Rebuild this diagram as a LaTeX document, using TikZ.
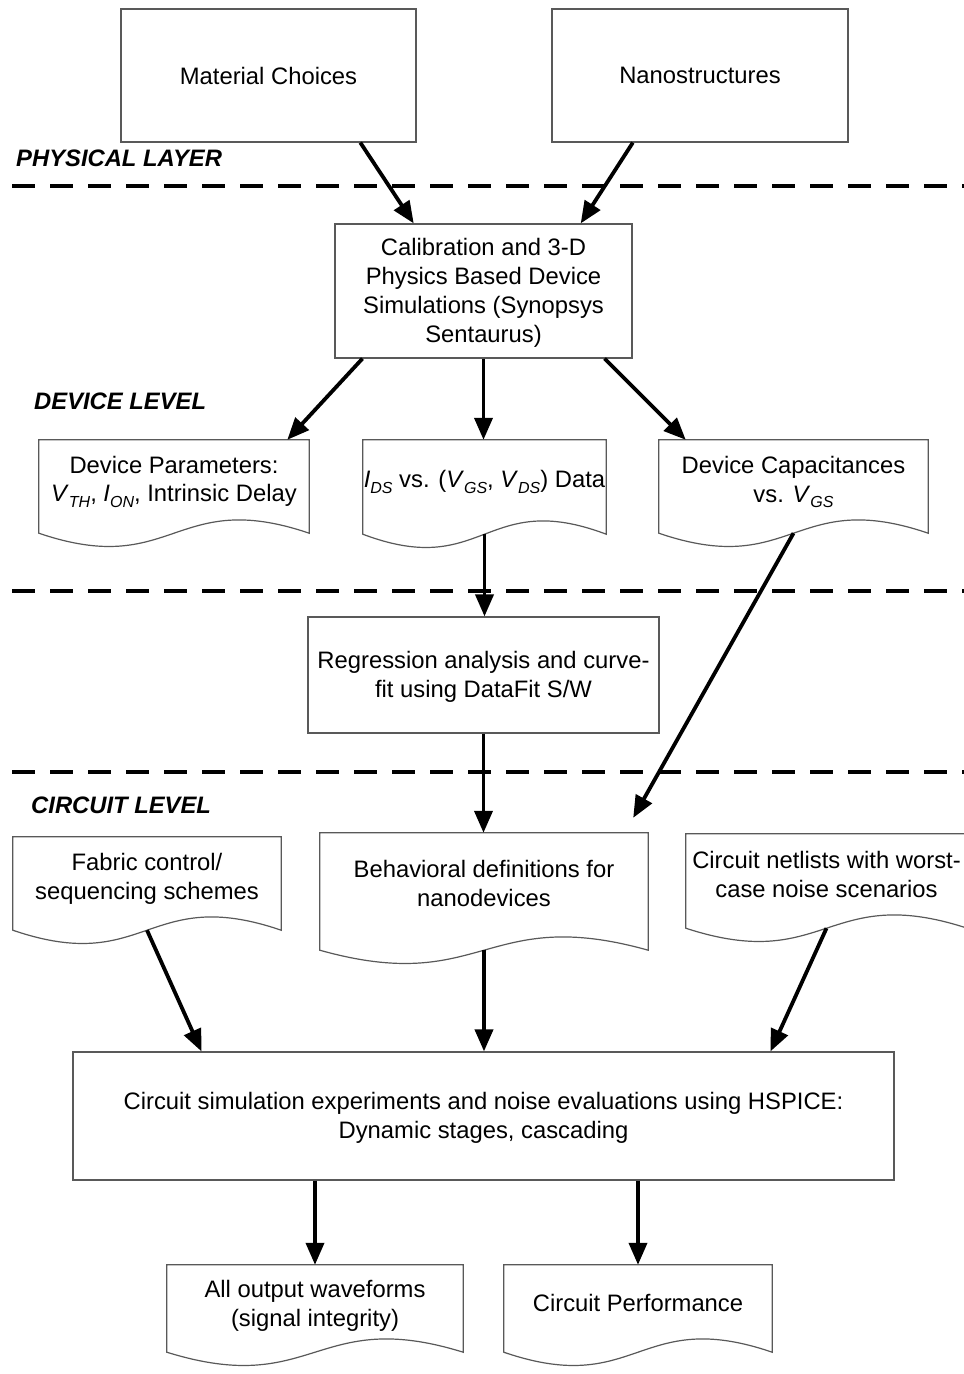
\documentclass[tikz,border=0pt]{standalone}
\usepackage{fontspec}
\setmainfont{Liberation Sans}
\usetikzlibrary{arrows.meta,calc}

% italic subscript set lower and smaller, as in V_GS
\newcommand\lowsub[1]{\raisebox{-0.22em}{\fontsize{16}{16}\selectfont\itshape #1}}
\newcommand\var[2]{\textit{#1}\lowsub{#2}}

% outline of a "document" box: square top, wavy bottom
\newcommand\docframe[1]{%
  \draw[boxline] (#1.south west) -- (#1.north west) -- (#1.north east) -- (#1.south east)
    .. controls ($(#1.south)+(0,-46)$) and ($(#1.south)+(0,46)$) .. (#1.south west) -- cycle;}

\tikzset{
  boxline/.style={line width=1.2pt, draw=black!65},
  procbox/.style={rectangle, boxline, inner sep=0pt, align=center,
    font=\fontsize{23.8}{28.8}\selectfont},
  docbox/.style={rectangle, inner sep=0pt},
  doctext/.style={inner sep=0pt, align=center, font=\fontsize{23.8}{28.8}\selectfont},
  layerlab/.style={inner sep=0pt, anchor=west,
    font=\fontsize{23.8}{28.8}\selectfont\bfseries\itshape},
  layersep/.style={line width=3.2pt, dash pattern=on 23pt off 15pt},
  conn/.style={line width=3.8pt, -{Triangle[length=22pt,width=18pt]}},
}

\begin{document}
\begin{tikzpicture}[x=1pt, y=-1pt]
\useasboundingbox[fill=white] (0,0) rectangle (964,1374);

% ---------- physical layer ----------
\node[procbox, minimum width=295pt, minimum height=133pt] (mat) at (268.5,75.5) {Material Choices};
\node[procbox, minimum width=296pt, minimum height=133pt] (nano) at (700,75.5) {Nanostructures};
\node[layerlab] (phys) at (16,158) {PHYSICAL LAYER};

\coordinate (sep1a) at (12,186);  \coordinate (sep1b) at (975,186);
\draw[layersep] (sep1a) -- (sep1b);

% ---------- device level ----------
\node[procbox, minimum width=297pt, minimum height=134pt] (cal) at (483.5,291) {};
\node[doctext] (cal-t) at ($(cal.center)+(0,2)$)
  {Calibration and 3-D\\Physics Based Device\\Simulations (Synopsys\\Sentaurus)};
\node[layerlab] (dev) at (34,401) {DEVICE LEVEL};

\node[docbox, minimum width=270pt, minimum height=93pt] (dp) at (174,486.5) {};
\node[docbox, minimum width=243pt, minimum height=94pt] (ids) at (484.5,487) {};
\node[docbox, minimum width=269pt, minimum height=93pt] (caps) at (793.5,486.5) {};
\docframe{dp} \docframe{ids} \docframe{caps}
\node[doctext] (dp-t) at ($(dp.center)+(0,-5)$)
  {Device Parameters:\\\var{V}{TH}, \var{I}{ON}, Intrinsic Delay};
\node[doctext] (ids-t) at ($(ids.center)+(0,-5)$)
  {\var{I}{DS} vs. (\var{V}{GS}, \var{V}{DS}) Data};
\node[doctext] (caps-t) at ($(caps.center)+(0,-4.5)$)
  {Device Capacitances\\vs. \var{V}{GS}};

\coordinate (sep2a) at (12,591);  \coordinate (sep2b) at (975,591);
\draw[layersep] (sep2a) -- (sep2b);

\node[procbox, minimum width=351pt, minimum height=116pt] (reg) at (483.5,675) {};
\node[doctext] (reg-t) at ($(reg.center)+(0,2)$)
  {Regression analysis and curve-\\fit using DataFit S/W};

\coordinate (sep3a) at (12,772);  \coordinate (sep3b) at (975,772);
\draw[layersep] (sep3a) -- (sep3b);

% ---------- circuit level ----------
\node[layerlab] (circ) at (31,805) {CIRCUIT LEVEL};

\node[docbox, minimum width=268pt, minimum height=93pt] (fab) at (147,883.5) {};
\node[docbox, minimum width=328pt, minimum height=117pt] (beh) at (484,891.5) {};
\node[docbox, minimum width=281pt, minimum height=94pt] (net) at (826.5,881) {};
\docframe{fab} \docframe{beh} \docframe{net}
\node[doctext] (fab-t) at ($(fab.center)+(0,-5)$) {Fabric control/\\sequencing schemes};
\node[doctext] (beh-t) at ($(beh.center)+(0,-8)$) {Behavioral definitions for\\nanodevices};
\node[doctext] (net-t) at ($(net.center)+(0,-6.5)$) {Circuit netlists with worst-\\case noise scenarios};

\node[procbox, minimum width=821pt, minimum height=128pt] (sim) at (483.5,1116) {};
\node[doctext] (sim-t) at ($(sim.center)+(0,2)$)
  {Circuit simulation experiments and noise evaluations using HSPICE:\\Dynamic stages, cascading};

\node[docbox, minimum width=296pt, minimum height=87pt] (out) at (315,1308.5) {};
\node[docbox, minimum width=268pt, minimum height=87pt] (perf) at (638,1308.5) {};
\docframe{out} \docframe{perf}
\node[doctext] (out-t) at ($(out.center)+(0,-2.5)$) {All output waveforms\\(signal integrity)};
\node[doctext] (perf-t) at ($(perf.center)+(0,-5.5)$) {Circuit Performance};

% ---------- connectors ----------
\draw[conn] ($(mat.south west)!0.81!(mat.south east)$) -- ($(cal.north west)!0.266!(cal.north east)$);
\draw[conn] ($(nano.south west)!0.274!(nano.south east)$) -- ($(cal.north west)!0.826!(cal.north east)$);

\draw[conn] ($(cal.south west)!0.094!(cal.south east)$) -- ($(dp.north west)!0.919!(dp.north east)$);
\draw[conn] (cal.south) -- (cal.south |- ids.north);
\draw[conn] ($(cal.south west)!0.906!(cal.south east)$) -- ($(caps.north west)!0.1!(caps.north east)$);

\draw[conn] (ids.south) -- (ids.south |- reg.north);
\draw[conn] (reg.south) -- (reg.south |- beh.north);
\coordinate (capsend) at ($(beh.north east)+(-15,-15)$);
\draw[conn] (caps.south) -- (capsend);

\draw[conn] (fab.south) -- ($(sim.north west)!0.157!(sim.north east)$);
\draw[conn] (beh.south) -- (beh.south |- sim.north);
\draw[conn] (net.south) -- ($(sim.north west)!0.849!(sim.north east)$);

\draw[conn] (sim.south -| out.north) -- (out.north);
\draw[conn] (sim.south -| perf.north) -- (perf.north);
\end{tikzpicture}
\end{document}
